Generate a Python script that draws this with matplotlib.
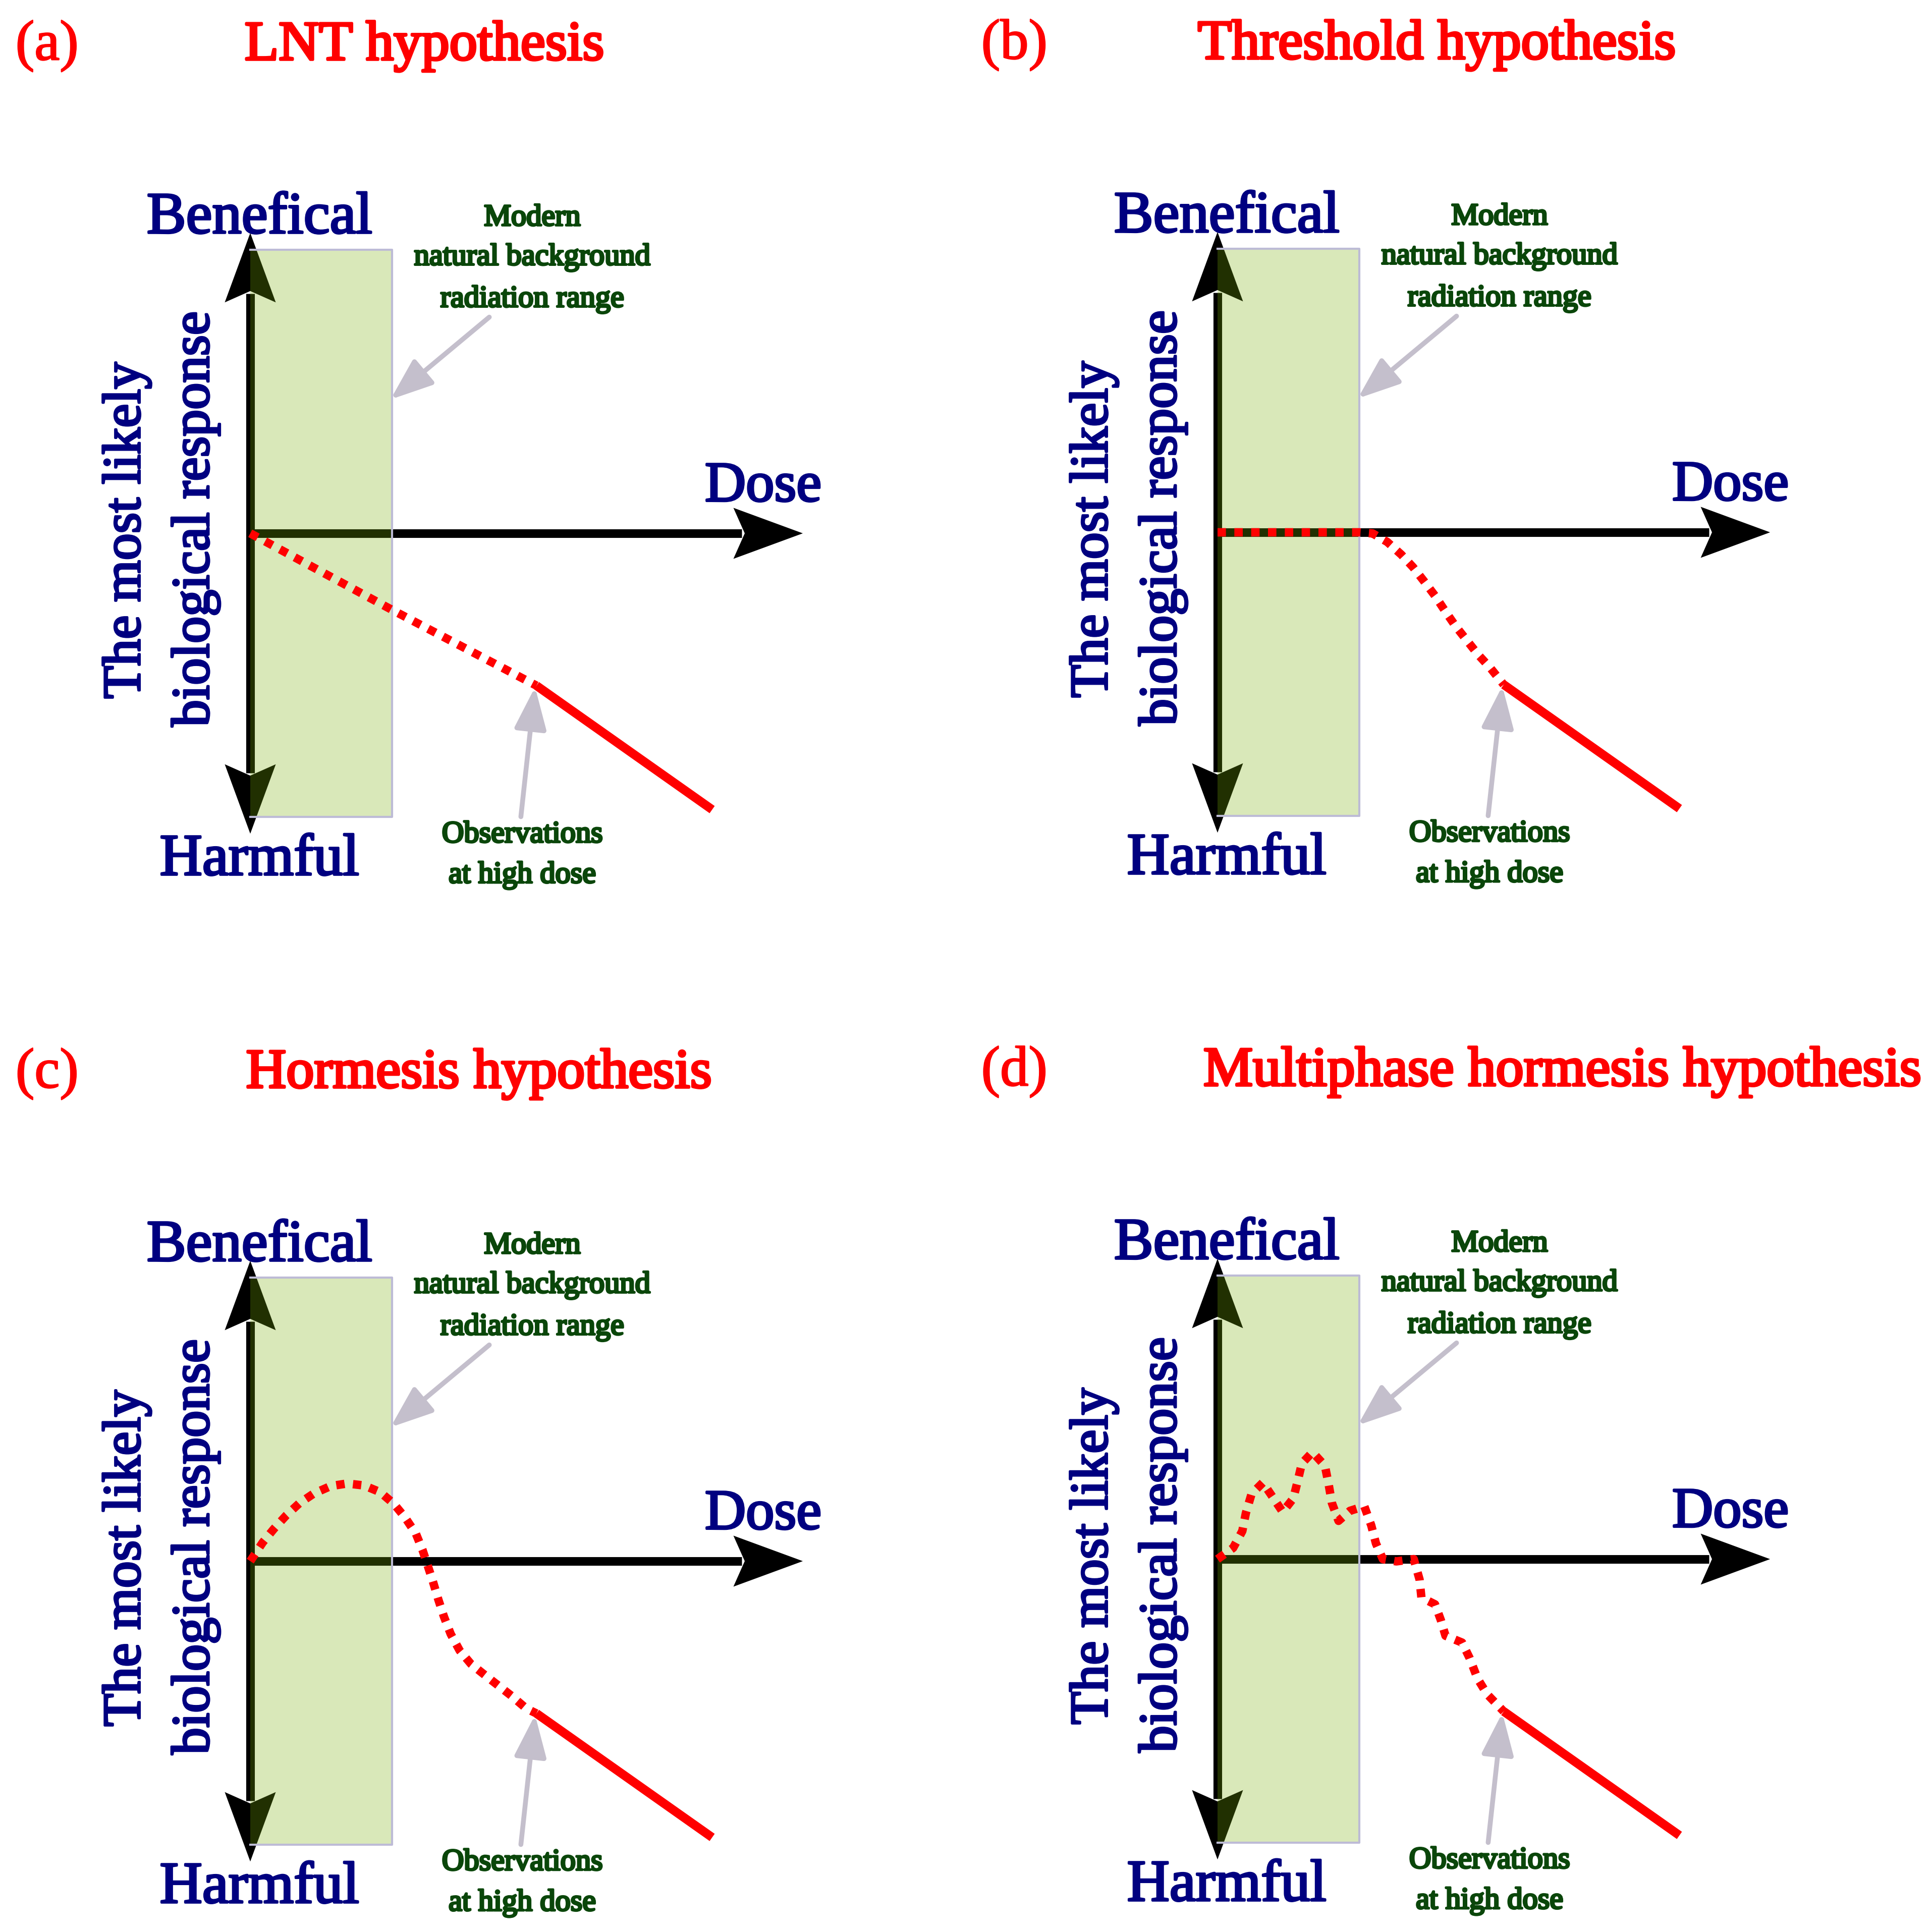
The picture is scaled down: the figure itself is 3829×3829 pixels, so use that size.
import matplotlib
matplotlib.use("Agg")
import matplotlib.pyplot as plt
import matplotlib.patheffects as pe
from matplotlib.patches import Rectangle, Polygon, FancyArrowPatch

plt.rcParams["font.family"] = ["Liberation Serif", "DejaVu Serif"]

# ---- data (dose / response in units of the background-range width) ----
panel_letters = ["(a)", "(b)", "(c)", "(d)"]
panel_titles = ["LNT hypothesis", "Threshold hypothesis",
                "Hormesis hypothesis", "Multiphase hormesis hypothesis"]

lnt_dose = [0.0, 1.0, 2.02]
lnt_resp = [0.0, -0.54, -1.075]

threshold_dose = [0.0, 1.0, 1.095, 1.198, 1.297, 1.38, 1.459, 1.535,
                  1.606, 1.68, 1.759, 1.839, 1.926, 2.02]
threshold_resp = [0.0, 0.0, -0.008, -0.068, -0.157, -0.246, -0.347, -0.448,
                  -0.555, -0.662, -0.762, -0.863, -0.958, -1.075]

hormesis_dose = [0.0, 0.088, 0.167, 0.254, 0.347, 0.448, 0.568, 0.684, 0.803,
                 0.917, 1.013, 1.092, 1.169, 1.216, 1.248, 1.288, 1.327, 1.367,
                 1.415, 1.478, 1.558, 1.661, 1.757, 1.844, 1.948, 2.02]
hormesis_resp = [0.0, 0.132, 0.228, 0.323, 0.409, 0.477, 0.53, 0.548, 0.534,
                 0.487, 0.405, 0.309, 0.194, 0.078, -0.018, -0.14, -0.27, -0.392,
                 -0.515, -0.631, -0.726, -0.808, -0.883, -0.951, -1.04, -1.075]

multiphase_dose = [0.0, 0.11, 0.175, 0.2, 0.24, 0.32, 0.39, 0.46, 0.535, 0.567,
                   0.595, 0.67, 0.758, 0.785, 0.807, 0.854, 0.935, 1.036, 1.085,
                   1.118, 1.167, 1.262, 1.385, 1.426, 1.439, 1.535, 1.576, 1.609,
                   1.726, 1.78, 1.835, 1.903, 2.02]
multiphase_resp = [0.0, 0.079, 0.198, 0.325, 0.46, 0.54, 0.437, 0.333, 0.429,
                   0.556, 0.675, 0.755, 0.659, 0.524, 0.397, 0.27, 0.341, 0.373,
                   0.238, 0.111, 0.0, -0.016, 0.0, -0.144, -0.271, -0.319, -0.43,
                   -0.541, -0.589, -0.7, -0.843, -0.954, -1.075]

curve_dose = [lnt_dose, threshold_dose, hormesis_dose, multiphase_dose]
curve_resp = [lnt_resp, threshold_resp, hormesis_resp, multiphase_resp]

# observed high-dose segment (solid)
observed_dose = [2.02, 3.26]
observed_resp = [-1.075, -1.95]

background_dose = (0.0, 1.0)
background_resp = (-2.0, 2.0)
dose_axis_end = 3.9
resp_axis_end = 2.12

y_label_lines = ["The most likely", "biological response"]
background_lines = ["Modern", "natural background", "radiation range"]
observation_lines = ["Observations", "at high dose"]

# ---- layout ----
W = 3829
DPI = 300
UNIT = 280.8  # pixels per data unit
origins = [(496, 1057), (2413, 1055), (496, 3094), (2413, 3090)]
title_x = [-0.04, -0.14, -0.03, -0.10]
XLIM = (-1.8, 5.1)
YLIM = (-2.65, 3.7)

NAVY = "#000080"
RED = "#ff0000"
GREEN = "#0a460a"
GREY = "#c4bfcc"
EDGE = "#bdbbd6"


def heavy(color, w):
    # thicken the serif strokes a little, like the original typeface
    return [pe.withStroke(linewidth=w, foreground=color)]


def arrow_head(ax, tip, d):
    tx, ty = tip
    dx, dy = d
    px, py = -dy, dx
    L, hw, notch = 0.49, 0.18, 0.41
    pts = [(tx, ty),
           (tx - L * dx + hw * px, ty - L * dy + hw * py),
           (tx - notch * dx, ty - notch * dy),
           (tx - L * dx - hw * px, ty - L * dy - hw * py)]
    ax.add_patch(Polygon(pts, closed=True, facecolor="black", lw=0,
                         zorder=1, clip_on=False))


fig = plt.figure(figsize=(W / DPI, W / DPI), dpi=DPI)

for i, (ox, oy) in enumerate(origins):
    left = (ox + XLIM[0] * UNIT) / W
    bottom = 1 - (oy - YLIM[0] * UNIT) / W
    ax = fig.add_axes([left, bottom,
                       (XLIM[1] - XLIM[0]) * UNIT / W,
                       (YLIM[1] - YLIM[0]) * UNIT / W])
    ax.set_xlim(*XLIM)
    ax.set_ylim(*YLIM)
    ax.axis("off")
    ax.patch.set_visible(False)

    # axes with arrows
    ax.plot([0, dose_axis_end - 0.43], [0, 0], color="black", lw=4.1,
            solid_capstyle="butt", zorder=1, clip_on=False)
    ax.plot([0, 0], [-resp_axis_end + 0.43, resp_axis_end - 0.43], color="black",
            lw=4.1, solid_capstyle="butt", zorder=1, clip_on=False)
    arrow_head(ax, (dose_axis_end, 0), (1, 0))
    arrow_head(ax, (0, resp_axis_end), (0, 1))
    arrow_head(ax, (0, -resp_axis_end), (0, -1))

    # natural background band (no visible left edge, it sits on the axis)
    x0, x1 = background_dose
    y0, y1 = background_resp
    ax.add_patch(Rectangle((x0, y0), x1 - x0, y1 - y0,
                           facecolor=(0.47, 0.68, 0.02, 0.28),
                           edgecolor="none", zorder=2))
    ax.plot([x0, x1, x1, x0], [y1, y1, y0, y0], color=EDGE, lw=1.0,
            zorder=2, clip_on=False)

    # response curves
    ax.plot(curve_dose[i], curve_resp[i], color=RED, lw=4.0,
            linestyle=(0, (1, 1)), dash_capstyle="butt", zorder=3, clip_on=False)
    ax.plot(observed_dose, observed_resp, color=RED, lw=4.2,
            solid_capstyle="butt", zorder=3, clip_on=False)

    # grey pointers
    ax.add_patch(FancyArrowPatch((1.687, 1.526), (0.99, 0.945),
                                 arrowstyle="-|>,head_length=17,head_width=6.5",
                                 mutation_scale=1, color=GREY, lw=2.3,
                                 shrinkA=0, shrinkB=0, zorder=4))
    ax.add_patch(FancyArrowPatch((1.91, -2.0),
                                 (observed_dose[0] - 0.01, observed_resp[0] - 0.01),
                                 arrowstyle="-|>,head_length=17,head_width=6.5",
                                 mutation_scale=1, color=GREY, lw=2.3,
                                 shrinkA=0, shrinkB=0, zorder=4))

    # texts
    ax.text(-1.434, 3.343, panel_letters[i], color=RED, fontsize=27,
            ha="center", va="baseline", path_effects=heavy(RED, 0.6))
    ax.text(title_x[i], 3.343, panel_titles[i], color=RED, fontsize=26.5,
            ha="left", va="baseline", path_effects=heavy(RED, 1.2))
    ax.text(0.065, 2.12, "Benefical", color=NAVY, fontsize=28,
            ha="center", va="baseline", path_effects=heavy(NAVY, 1.0))
    ax.text(0.065, -2.41, "Harmful", color=NAVY, fontsize=28,
            ha="center", va="baseline", path_effects=heavy(NAVY, 1.0))
    ax.text(3.62, 0.228, "Dose", color=NAVY, fontsize=27,
            ha="center", va="baseline", path_effects=heavy(NAVY, 1.0))
    for (x, y), line in zip([(-0.78, 0.02), (-0.294, 0.10)], y_label_lines):
        ax.text(x, y, line, color=NAVY, fontsize=25.5, rotation=90,
                rotation_mode="anchor", ha="center", va="baseline",
                path_effects=heavy(NAVY, 1.0))
    for y, line in zip([2.173, 1.895, 1.599], background_lines):
        ax.text(1.99, y, line, color=GREEN, fontsize=14.5,
                ha="center", va="baseline", path_effects=heavy(GREEN, 1.0))
    for y, line in zip([-2.18, -2.466], observation_lines):
        ax.text(1.92, y, line, color=GREEN, fontsize=14.5,
                ha="center", va="baseline", path_effects=heavy(GREEN, 1.0))

fig.savefig("out.png", dpi=DPI)
